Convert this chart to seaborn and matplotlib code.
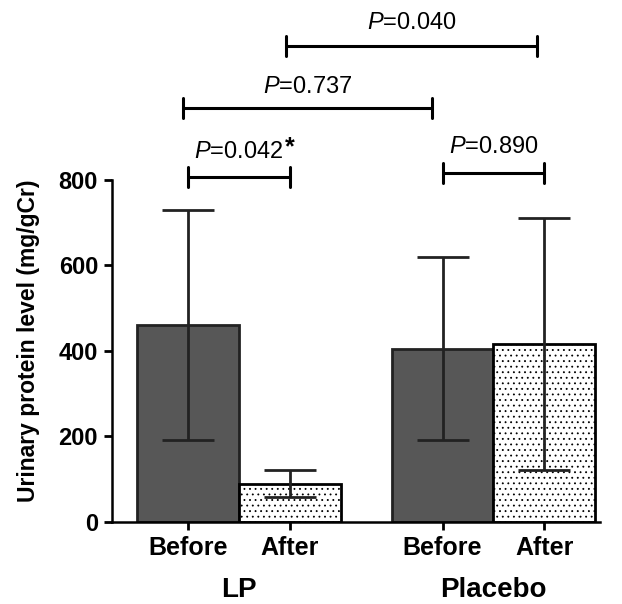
import numpy as np
import pandas as pd
import seaborn as sns
import matplotlib.pyplot as plt
import matplotlib.transforms as mtransforms

# values (mean +/- SD, mg/gCr)
groups = ['LP', 'LP', 'Placebo', 'Placebo']
times = ['Before', 'After', 'Before', 'After']
means = [461, 89, 405, 417]
sds = [269, 32, 214, 295]

# significance brackets: (x0, x1, y, text, text y)
brackets = [
    (-0.2, 0.2, 807, r'$\it{P}$=0.042', 865),
    (0.8, 1.2, 816, r'$\it{P}$=0.890', 877),
    (-0.22, 0.76, 968, r'$\it{P}$=0.737', 1018),
    (0.185, 1.17, 1113, r'$\it{P}$=0.040', 1167),
]

###

df = pd.DataFrame({'group': groups, 'time': times, 'mean': means, 'sd': sds})

sns.set_style('ticks', {'axes.edgecolor': 'black', 'text.color': 'black',
                        'xtick.color': 'black', 'ytick.color': 'black',
                        'axes.labelcolor': 'black'})
plt.rcParams['font.family'] = ['Liberation Sans', 'DejaVu Sans']
plt.rcParams['mathtext.fontset'] = 'custom'
plt.rcParams['mathtext.rm'] = 'Liberation Sans'
plt.rcParams['mathtext.it'] = 'Liberation Sans:italic'
plt.rcParams['mathtext.bf'] = 'Liberation Sans:bold'
plt.rcParams['hatch.linewidth'] = 0.6

fig = plt.figure(figsize=(6.22, 6.04), dpi=100)
ax = fig.add_axes([0.18, 0.136, 0.785, 0.566])

hue_order = ['Before', 'After']
sns.barplot(data=df, x='group', y='mean', hue='time', hue_order=hue_order,
            palette={'Before': '#575757', 'After': 'white'},
            edgecolor='#222222', linewidth=2, errorbar=None, legend=False,
            width=0.8, ax=ax)

tick_pos, tick_lab = [], []
for level, cont in zip(hue_order, ax.containers):
    sub = df[df['time'] == level]
    for bar, (_, row) in zip(cont, sub.iterrows()):
        xc = bar.get_x() + bar.get_width() / 2
        if level == 'After':
            bar.set_hatch('...')
            bar.set_edgecolor('black')
        ax.errorbar(xc, row['mean'], yerr=row['sd'], fmt='none', ecolor='#222222',
                    elinewidth=2, capsize=19, capthick=2, zorder=5)
        tick_pos.append(xc)
        tick_lab.append(level)

ax.set_xticks(tick_pos)
ax.set_xticklabels(tick_lab, fontsize=18, fontweight='bold')
ax.set_xlim(-0.5, 1.42)
ax.set_ylim(0, 800)
ax.set_yticks([0, 200, 400, 600, 800])
ax.tick_params(axis='y', labelsize=17, length=6, width=2, pad=4)
ax.tick_params(axis='x', length=6, width=2, pad=4)
for lab in ax.get_yticklabels():
    lab.set_fontweight('bold')
ax.set_xlabel('')
ax.set_ylabel('Urinary protein level (mg/gCr)', fontsize=16.5, fontweight='bold')
ax.yaxis.set_label_coords(-0.148, 0.53)
sns.despine(ax=ax)
for s in ['left', 'bottom']:
    ax.spines[s].set_linewidth(1.8)

trans = mtransforms.blended_transform_factory(ax.transData, ax.transAxes)
for i, g in enumerate(['LP', 'Placebo']):
    ax.text(i, -0.2, g, transform=trans, ha='center', va='center',
            fontsize=20, fontweight='bold')

for x0, x1, y, txt, ty in brackets:
    ax.plot([x0, x1], [y, y], color='black', lw=2.2, clip_on=False)
    for xx in (x0, x1):
        ax.plot([xx, xx], [y - 23, y + 23], color='black', lw=2.2, clip_on=False)
    t = ax.text((x0 + x1) / 2, ty, txt, ha='center', va='center', fontsize=17)
    if '0.042' in txt:
        ax.annotate('*', xy=(1, 1), xycoords=t, xytext=(1, 4),
                    textcoords='offset points', ha='left', va='top',
                    fontsize=18, fontweight='bold')

fig.savefig('out.png', dpi=100)
